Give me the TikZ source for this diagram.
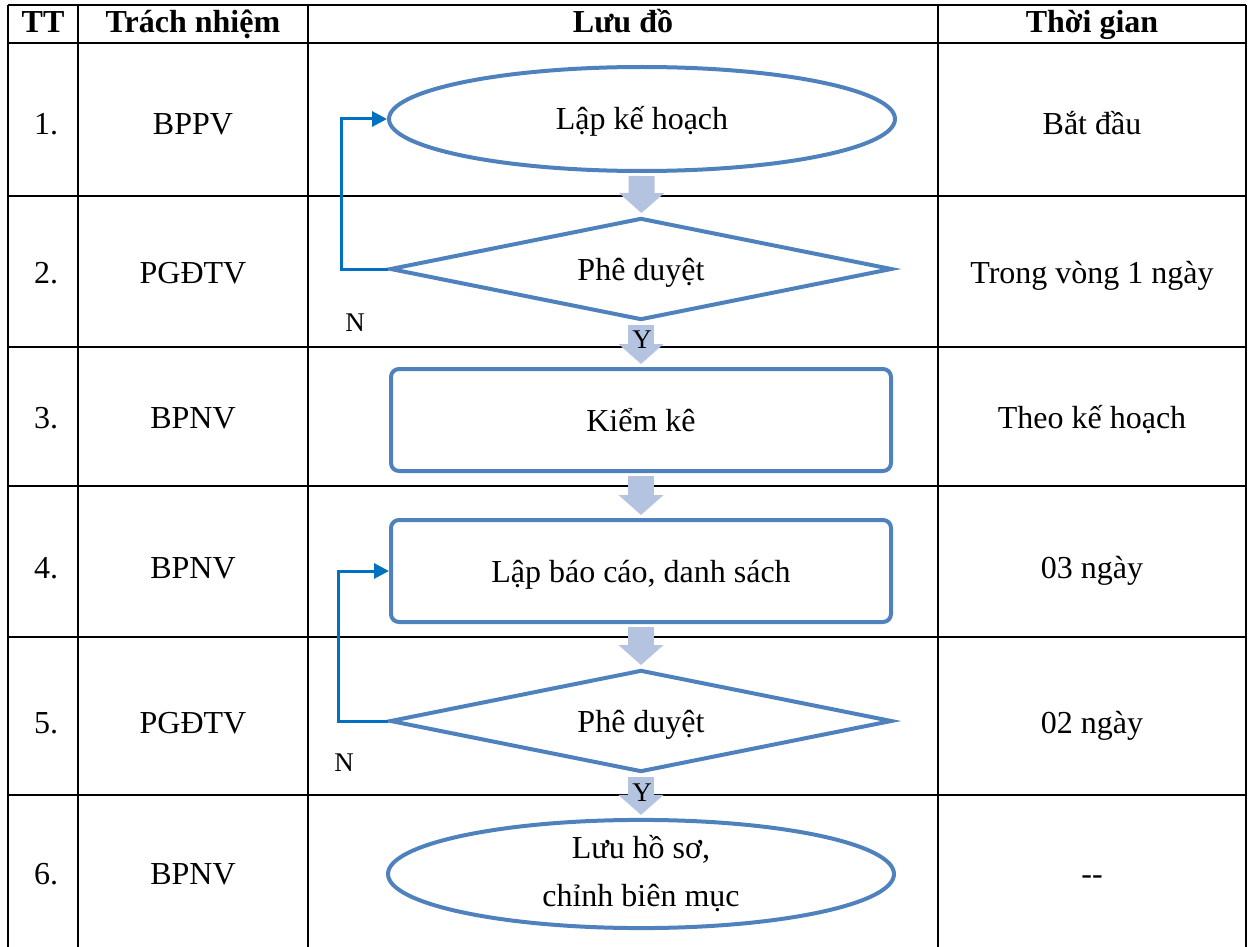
\documentclass[tikz,border=0pt]{standalone}
\usepackage{fontspec}
\setmainfont{Liberation Serif}
\usetikzlibrary{shapes.geometric,arrows.meta,positioning}
\definecolor{boxline}{HTML}{4F81BD}
\definecolor{blkfill}{HTML}{B4C4E0}
\definecolor{loopline}{HTML}{0070C0}

\begin{document}
\begin{tikzpicture}[x=0.5pt, y=-0.5pt,
  cell/.style={inner sep=0pt, text height=11pt, text depth=0pt, font=\fontsize{16}{19}\selectfont},
  hd/.style={inner sep=0pt, text height=11pt, text depth=0pt, font=\fontsize{16}{19}\selectfont\bfseries},
  term/.style={ellipse, draw=boxline, line width=2pt, minimum width=253pt, minimum height=52pt, inner sep=0pt, align=center, font=\fontsize{16}{24}\selectfont},
  proc/.style={rectangle, rounded corners=4pt, draw=boxline, line width=2pt, minimum width=250pt, minimum height=51pt, text height=11pt, text depth=0pt, font=\fontsize{16}{19}\selectfont},
  dec/.style={diamond, aspect=5, draw=boxline, line width=2pt, minimum width=251pt, minimum height=51pt, inner sep=0pt, text height=11pt, text depth=0pt, font=\fontsize{16}{19}\selectfont},
  blk/.style={-{Triangle[width=22pt,length=10pt]}, line width=13pt, blkfill, shorten <=1.5pt, shorten >=1.5pt},
  back/.style={-{Triangle[width=7.5pt,length=7.5pt]}, line width=1.5pt, loopline},
  yn/.style={inner sep=0pt, text height=9pt, text depth=0pt, font=\fontsize{13.5}{16}\selectfont}
]
  \useasboundingbox (0,0) rectangle (1254,947);
  % table grid
  \foreach \y in {5,43,196,347,486,637,795}{\draw[line width=1pt] (8,\y) -- (1246,\y);}
  \foreach \x in {8,78,308,938,1246}{\draw[line width=1pt] (\x,5) -- (\x,947);}
  % header
  \node[hd] (hTT) at (43,22) {TT};
  \node[hd] (hWho) at (193,22) {Trách nhiệm};
  \node[hd] (hFlow) at (623,22) {Lưu đồ};
  \node[hd] (hTime) at (1092,22) {Thời gian};
  % rows
  \foreach \i/\y/\who/\when in {1/123/BPPV/Bắt đầu, 2/272/PGĐTV/Trong vòng 1 ngày, 3/417/BPNV/Theo kế hoạch, 4/567/BPNV/03 ngày, 5/722/PGĐTV/02 ngày, 6/873/BPNV/-{}-}{
    \node[cell] (tt\i) at (46,\y) {\i.};
    \node[cell] (who\i) at (193,\y) {\who};
    \node[cell] (when\i) at (1092,\y) {\when};
  }
  % flow chart
  \node[term, text height=11pt, text depth=0pt] (plan) at (642,119) {Lập kế hoạch};
  \node[dec] (ok1) at (641,269) {Phê duyệt};
  \node[proc] (count) at (641,420) {Kiểm kê};
  \node[proc] (report) at (641,571) {Lập báo cáo, danh sách};
  \node[dec] (ok2) at (641,721) {Phê duyệt};
  \node[term] (store) at (641,874) {Lưu hồ sơ,\\chỉnh biên mục};
  \draw[blk] (plan) -- (ok1);
  \draw[blk] (ok1) -- (count);
  \draw[blk] (count) -- (report);
  \draw[blk] (report) -- (ok2);
  \draw[blk] (ok2) -- (store);
  \draw[back] (ok1.west) -- ++(-47,0) |- (plan.west);
  \draw[back] (ok2.west) -- ++(-50,0) |- (report.west);
  \node[yn] (y1) at (642,339) {Y};
  \node[yn] (y2) at (642,792) {Y};
  \node[yn] (n1) at (355,322) {N};
  \node[yn] (n2) at (344,762) {N};
\end{tikzpicture}
\end{document}
